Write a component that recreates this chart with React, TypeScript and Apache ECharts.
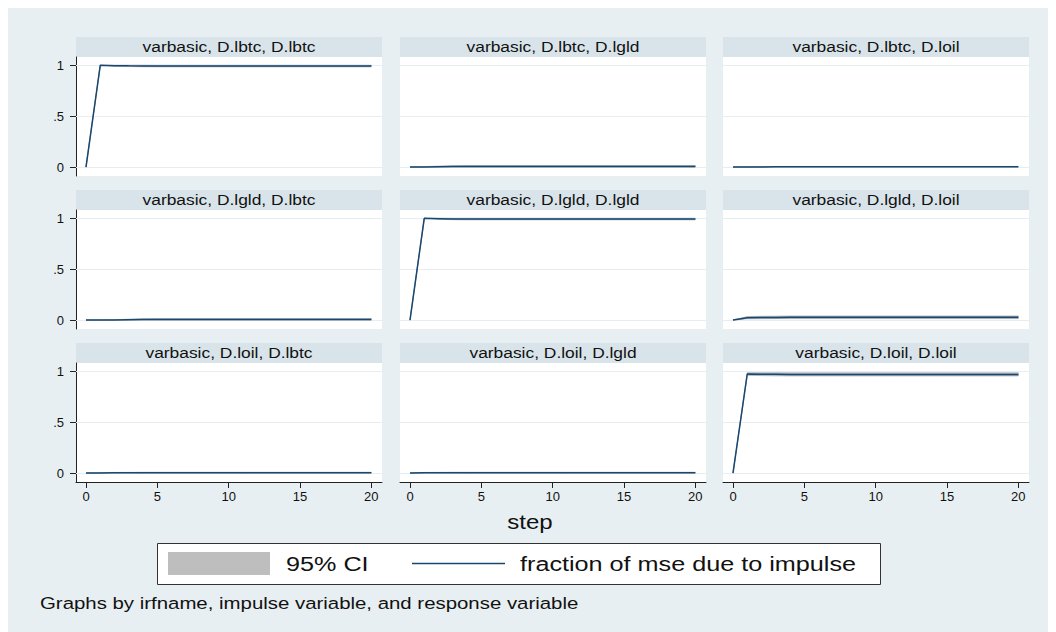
import React, { useEffect, useRef } from "react";
import * as echarts from "echarts";

// ---------- data ----------
const STEPS = [0, 1, 2, 3, 4, 5, 6, 7, 8, 9, 10, 11, 12, 13, 14, 15, 16, 17, 18, 19, 20];
const IRF_NAME = "varbasic";
const IMPULSES = ["D.lbtc", "D.lgld", "D.loil"];
const RESPONSES = ["D.lbtc", "D.lgld", "D.loil"];
const Y_TICKS = [0, 0.5, 1];
const Y_TICK_LABELS = ["0", ".5", "1"];
const X_TICKS = [0, 5, 10, 15, 20];
const X_TITLE = "step";
const LEGEND_CI = "95% CI";
const LEGEND_LINE = "fraction of mse due to impulse";
const NOTE = "Graphs by irfname, impulse variable, and response variable";

// impulse D.lbtc
const est_lbtc_lbtc = [0, 1, 0.997, 0.995, 0.994, 0.993, 0.993, 0.993, 0.993, 0.993, 0.993, 0.993, 0.993, 0.993, 0.993, 0.993, 0.993, 0.993, 0.993, 0.993, 0.993];
const lo_lbtc_lbtc = [0, 1, 0.992, 0.988, 0.986, 0.985, 0.985, 0.985, 0.985, 0.985, 0.985, 0.985, 0.985, 0.985, 0.985, 0.985, 0.985, 0.985, 0.985, 0.985, 0.985];
const hi_lbtc_lbtc = [0, 1, 1.002, 1.002, 1.002, 1.001, 1.001, 1.001, 1.001, 1.001, 1.001, 1.001, 1.001, 1.001, 1.001, 1.001, 1.001, 1.001, 1.001, 1.001, 1.001];

const est_lbtc_lgld = [0, 0.001, 0.003, 0.005, 0.006, 0.006, 0.006, 0.006, 0.006, 0.006, 0.006, 0.006, 0.006, 0.006, 0.006, 0.006, 0.006, 0.006, 0.006, 0.006, 0.006];
const lo_lbtc_lgld = [0, 0, 0, 0, 0, 0, 0, 0, 0, 0, 0, 0, 0, 0, 0, 0, 0, 0, 0, 0, 0];
const hi_lbtc_lgld = [0, 0.004, 0.009, 0.013, 0.015, 0.015, 0.015, 0.015, 0.015, 0.015, 0.015, 0.015, 0.015, 0.015, 0.015, 0.015, 0.015, 0.015, 0.015, 0.015, 0.015];

const est_lbtc_loil = [0, 0.001, 0.001, 0.002, 0.002, 0.002, 0.002, 0.002, 0.002, 0.002, 0.002, 0.002, 0.002, 0.002, 0.002, 0.002, 0.002, 0.002, 0.002, 0.002, 0.002];
const lo_lbtc_loil = [0, 0, 0, 0, 0, 0, 0, 0, 0, 0, 0, 0, 0, 0, 0, 0, 0, 0, 0, 0, 0];
const hi_lbtc_loil = [0, 0.003, 0.004, 0.005, 0.006, 0.006, 0.006, 0.006, 0.006, 0.006, 0.006, 0.006, 0.006, 0.006, 0.006, 0.006, 0.006, 0.006, 0.006, 0.006, 0.006];

// impulse D.lgld
const est_lgld_lbtc = [0, 0, 0.001, 0.003, 0.005, 0.006, 0.006, 0.006, 0.006, 0.006, 0.006, 0.006, 0.006, 0.006, 0.006, 0.006, 0.006, 0.006, 0.006, 0.006, 0.006];
const lo_lgld_lbtc = [0, 0, 0, 0, 0, 0, 0, 0, 0, 0, 0, 0, 0, 0, 0, 0, 0, 0, 0, 0, 0];
const hi_lgld_lbtc = [0, 0, 0.003, 0.009, 0.013, 0.015, 0.015, 0.015, 0.015, 0.015, 0.015, 0.015, 0.015, 0.015, 0.015, 0.015, 0.015, 0.015, 0.015, 0.015, 0.015];

const est_lgld_lgld = [0, 1, 0.997, 0.994, 0.993, 0.993, 0.993, 0.993, 0.993, 0.993, 0.993, 0.993, 0.993, 0.993, 0.993, 0.993, 0.993, 0.993, 0.993, 0.993, 0.993];
const lo_lgld_lgld = [0, 1, 0.992, 0.987, 0.985, 0.985, 0.985, 0.985, 0.985, 0.985, 0.985, 0.985, 0.985, 0.985, 0.985, 0.985, 0.985, 0.985, 0.985, 0.985, 0.985];
const hi_lgld_lgld = [0, 1, 1.002, 1.001, 1.001, 1.001, 1.001, 1.001, 1.001, 1.001, 1.001, 1.001, 1.001, 1.001, 1.001, 1.001, 1.001, 1.001, 1.001, 1.001, 1.001];

const est_lgld_loil = [0, 0.023, 0.025, 0.026, 0.027, 0.027, 0.027, 0.027, 0.027, 0.027, 0.027, 0.027, 0.027, 0.027, 0.027, 0.027, 0.027, 0.027, 0.027, 0.027, 0.027];
const lo_lgld_loil = [0, 0.012, 0.013, 0.014, 0.014, 0.014, 0.014, 0.014, 0.014, 0.014, 0.014, 0.014, 0.014, 0.014, 0.014, 0.014, 0.014, 0.014, 0.014, 0.014, 0.014];
const hi_lgld_loil = [0, 0.034, 0.037, 0.038, 0.04, 0.04, 0.04, 0.04, 0.04, 0.04, 0.04, 0.04, 0.04, 0.04, 0.04, 0.04, 0.04, 0.04, 0.04, 0.04, 0.04];

// impulse D.loil
const est_loil_lbtc = [0, 0.001, 0.002, 0.002, 0.003, 0.003, 0.003, 0.003, 0.003, 0.003, 0.003, 0.003, 0.003, 0.003, 0.003, 0.003, 0.003, 0.003, 0.003, 0.003, 0.003];
const lo_loil_lbtc = [0, 0, 0, 0, 0, 0, 0, 0, 0, 0, 0, 0, 0, 0, 0, 0, 0, 0, 0, 0, 0];
const hi_loil_lbtc = [0, 0.004, 0.006, 0.007, 0.008, 0.008, 0.008, 0.008, 0.008, 0.008, 0.008, 0.008, 0.008, 0.008, 0.008, 0.008, 0.008, 0.008, 0.008, 0.008, 0.008];

const est_loil_lgld = [0, 0.002, 0.002, 0.003, 0.003, 0.003, 0.003, 0.003, 0.003, 0.003, 0.003, 0.003, 0.003, 0.003, 0.003, 0.003, 0.003, 0.003, 0.003, 0.003, 0.003];
const lo_loil_lgld = [0, 0, 0, 0, 0, 0, 0, 0, 0, 0, 0, 0, 0, 0, 0, 0, 0, 0, 0, 0, 0];
const hi_loil_lgld = [0, 0.006, 0.007, 0.008, 0.008, 0.008, 0.008, 0.008, 0.008, 0.008, 0.008, 0.008, 0.008, 0.008, 0.008, 0.008, 0.008, 0.008, 0.008, 0.008, 0.008];

const est_loil_loil = [0, 0.974, 0.972, 0.971, 0.97, 0.97, 0.97, 0.97, 0.97, 0.97, 0.97, 0.97, 0.97, 0.97, 0.97, 0.97, 0.97, 0.97, 0.97, 0.97, 0.97];
const lo_loil_loil = [0, 0.962, 0.958, 0.956, 0.955, 0.955, 0.955, 0.955, 0.955, 0.955, 0.955, 0.955, 0.955, 0.955, 0.955, 0.955, 0.955, 0.955, 0.955, 0.955, 0.955];
const hi_loil_loil = [0, 0.986, 0.986, 0.986, 0.985, 0.985, 0.985, 0.985, 0.985, 0.985, 0.985, 0.985, 0.985, 0.985, 0.985, 0.985, 0.985, 0.985, 0.985, 0.985, 0.985];

const PANELS = [
  { imp: 0, resp: 0, est: est_lbtc_lbtc, lo: lo_lbtc_lbtc, hi: hi_lbtc_lbtc },
  { imp: 0, resp: 1, est: est_lbtc_lgld, lo: lo_lbtc_lgld, hi: hi_lbtc_lgld },
  { imp: 0, resp: 2, est: est_lbtc_loil, lo: lo_lbtc_loil, hi: hi_lbtc_loil },
  { imp: 1, resp: 0, est: est_lgld_lbtc, lo: lo_lgld_lbtc, hi: hi_lgld_lbtc },
  { imp: 1, resp: 1, est: est_lgld_lgld, lo: lo_lgld_lgld, hi: hi_lgld_lgld },
  { imp: 1, resp: 2, est: est_lgld_loil, lo: lo_lgld_loil, hi: hi_lgld_loil },
  { imp: 2, resp: 0, est: est_loil_lbtc, lo: lo_loil_lbtc, hi: hi_loil_lbtc },
  { imp: 2, resp: 1, est: est_loil_lgld, lo: lo_loil_lgld, hi: hi_loil_lgld },
  { imp: 2, resp: 2, est: est_loil_loil, lo: lo_loil_loil, hi: hi_loil_loil },
];

// ---------- layout / style ----------
const FONT = "'Liberation Sans', Arial, Helvetica, sans-serif";
const BG = "#e8eff2";
const STRIP = "#d9e4ea";
const GRIDLINE = "#e6eef1";
const NAVY = "#1a476f";
const CI_GRAY = "#bebebe";
const CI_EDGE = "#8a9aa8";
const AXIS = "#222";
const TEXT = "#111";
const STRETCH = 1.2;
const COL_LEFT = [68, 392, 715];
const ROW_TOP = [49, 202, 355];
const PW = 306;
const PH = 119;
const STRIP_H = 20;

export default function App() {
  const ref = useRef<HTMLDivElement>(null);

  useEffect(() => {
    const chart = echarts.init(ref.current!, null, { renderer: "svg" });

    const grids: any[] = [];
    const xAxes: any[] = [];
    const yAxes: any[] = [];
    const series: any[] = [];
    const graphics: any[] = [];

    PANELS.forEach((p, i) => {
      const left = COL_LEFT[p.resp];
      const top = ROW_TOP[p.imp];
      const isBottom = p.imp === 2;
      const isLeft = p.resp === 0;
      grids.push({
        left,
        top,
        width: PW,
        height: PH,
        show: true,
        backgroundColor: "#fff",
        borderWidth: 0,
      });
      xAxes.push({
        gridIndex: i,
        type: "value",
        min: -0.7,
        max: 20.75,
        axisLine: { show: isBottom, onZero: false, lineStyle: { color: AXIS, width: 1 } },
        axisTick: { show: isBottom, length: 6, customValues: X_TICKS, lineStyle: { color: AXIS } },
        axisLabel: {
          show: isBottom,
          customValues: X_TICKS,
          margin: 8,
          fontSize: 13,
          fontFamily: FONT,
          color: TEXT,
        },
        splitLine: { show: false },
      });
      yAxes.push({
        gridIndex: i,
        type: "value",
        min: -0.088,
        max: 1.082,
        axisLine: { show: isLeft, onZero: false, lineStyle: { color: AXIS, width: 1 } },
        axisTick: { show: isLeft, length: 6, customValues: Y_TICKS, lineStyle: { color: AXIS } },
        axisLabel: {
          show: isLeft,
          customValues: Y_TICKS,
          margin: 12,
          fontSize: 13,
          fontFamily: FONT,
          color: TEXT,
          formatter: (v: number) => {
            const k = Y_TICKS.findIndex((t) => Math.abs(t - v) < 1e-9);
            return k >= 0 ? Y_TICK_LABELS[k] : "";
          },
        },
        splitLine: { show: false },
      });

      // CI band (custom polygon) + grid lines via markLine
      series.push({
        type: "custom",
        xAxisIndex: i,
        yAxisIndex: i,
        data: STEPS.map((s, k) => [s, p.lo[k], p.hi[k]]),
        silent: true,
        z: 2,
        renderItem: (params: any, api: any) => {
          if (params.dataIndex !== 0) return null;
          const upper = STEPS.map((s, k) => api.coord([s, p.hi[k]]));
          const lower = STEPS.map((s, k) => api.coord([s, p.lo[k]])).reverse();
          return {
            type: "polygon",
            shape: { points: upper.concat(lower) },
            style: { fill: CI_GRAY, stroke: CI_EDGE, lineWidth: 0.6 },
            silent: true,
          };
        },
        markLine: {
          silent: true,
          symbol: "none",
          label: { show: false },
          z: 1,
          lineStyle: { color: GRIDLINE, width: 1, type: "solid" },
          data: Y_TICKS.map((t) => ({ yAxis: t })),
        },
      });
      // estimate line
      series.push({
        type: "line",
        xAxisIndex: i,
        yAxisIndex: i,
        data: STEPS.map((s, k) => [s, p.est[k]]),
        symbol: "none",
        silent: true,
        lineStyle: { color: NAVY, width: 1.5 },
        z: 3,
      });

      // strip title
      graphics.push({
        type: "rect",
        shape: { x: left, y: top - STRIP_H, width: PW, height: STRIP_H },
        style: { fill: STRIP },
        silent: true,
      });
      graphics.push({
        type: "text",
        x: left + PW / 2,
        y: top - STRIP_H / 2,
        scaleX: STRETCH,
        style: {
          text: `${IRF_NAME}, ${IMPULSES[p.imp]}, ${RESPONSES[p.resp]}`,
          fontSize: 14.5,
          fontFamily: FONT,
          fill: TEXT,
          align: "center",
          verticalAlign: "middle",
        },
        silent: true,
      });
    });

    // x title
    graphics.push({
      type: "text",
      x: 522,
      y: 514,
      scaleX: STRETCH,
      style: { text: X_TITLE, fontSize: 20, fontFamily: FONT, fill: TEXT, align: "center", verticalAlign: "middle" },
      silent: true,
    });
    // legend
    graphics.push({
      type: "rect",
      shape: { x: 149.5, y: 535.5, width: 723, height: 41 },
      style: { fill: "#fff", stroke: "#333", lineWidth: 1 },
      silent: true,
    });
    graphics.push({
      type: "rect",
      shape: { x: 160, y: 544, width: 102, height: 23 },
      style: { fill: CI_GRAY },
      silent: true,
    });
    graphics.push({
      type: "text",
      x: 278,
      y: 556,
      scaleX: STRETCH,
      style: { text: LEGEND_CI, fontSize: 21, fontFamily: FONT, fill: TEXT, align: "left", verticalAlign: "middle" },
      silent: true,
    });
    graphics.push({
      type: "line",
      shape: { x1: 404, y1: 555.5, x2: 497, y2: 555.5 },
      style: { stroke: NAVY, lineWidth: 1.5 },
      silent: true,
    });
    graphics.push({
      type: "text",
      x: 512,
      y: 556,
      scaleX: STRETCH,
      style: { text: LEGEND_LINE, fontSize: 21, fontFamily: FONT, fill: TEXT, align: "left", verticalAlign: "middle" },
      silent: true,
    });
    // note
    graphics.push({
      type: "text",
      x: 32,
      y: 595,
      scaleX: STRETCH,
      style: { text: NOTE, fontSize: 17, fontFamily: FONT, fill: TEXT, align: "left", verticalAlign: "middle" },
      silent: true,
    });

    chart.setOption({
      animation: false,
      backgroundColor: BG,
      textStyle: { fontFamily: FONT },
      grid: grids,
      xAxis: xAxes,
      yAxis: yAxes,
      series,
      graphic: { elements: graphics },
    });

    return () => chart.dispose();
  }, []);

  return <div ref={ref} style={{ width: 1048, height: 624, background: BG }} />;
}
